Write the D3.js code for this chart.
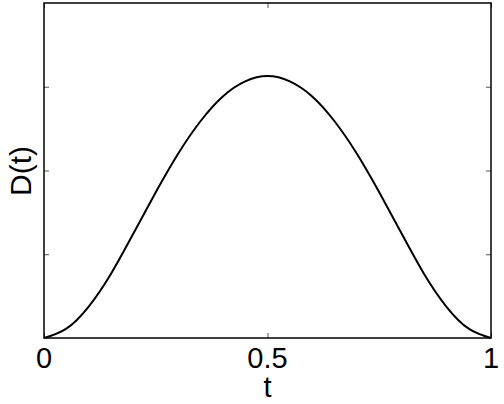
<!DOCTYPE html>
<html>
<head>
<meta charset="utf-8">
<script src="https://cdnjs.cloudflare.com/ajax/libs/d3/7.8.5/d3.min.js"></script>
<style>
  body { margin: 0; background: #fff; }
  text { font-family: "Liberation Sans", Arial, sans-serif; fill: #000; }
</style>
</head>
<body>
<div id="chart"></div>
<script>
// values
var tValues = [0, 0.05, 0.1, 0.15, 0.2, 0.25, 0.3, 0.35, 0.4, 0.45, 0.5,
               0.55, 0.6, 0.65, 0.7, 0.75, 0.8, 0.85, 0.9, 0.95, 1];
var dValues = [0, 0.028, 0.094, 0.192, 0.312, 0.435, 0.550, 0.647, 0.721, 0.766, 0.782,
               0.766, 0.721, 0.647, 0.550, 0.435, 0.312, 0.192, 0.094, 0.028, 0];
var xTicks = [0, 0.5, 1];
var xTickLabels = ["0", "0.5", "1"];
var yTicks = [0.25, 0.5, 0.75];

var width = 504, height = 404;
var margin = {top: 3, right: 13, bottom: 66, left: 44};

var svg = d3.select('#chart')
  .append('svg')
  .attr('width', width)
  .attr('height', height);

var x = d3.scaleLinear().domain([0, 1]).range([margin.left, width - margin.right]);
var y = d3.scaleLinear().domain([0, 1]).range([height - margin.bottom, margin.top]);

var data = tValues.map(function(t, i) { return {t: t, d: dValues[i]}; });

// curve
var line = d3.line()
  .x(function(d) { return x(d.t); })
  .y(function(d) { return y(d.d); })
  .curve(d3.curveNatural);

svg.append('path')
  .datum(data)
  .attr('d', line)
  .attr('fill', 'none')
  .attr('stroke', '#000')
  .attr('stroke-width', 2);

// axes, ticks pointing inward
var tickLen = 5;
svg.append('g')
  .attr('transform', 'translate(0,' + y(0) + ')')
  .call(d3.axisBottom(x).tickValues(xTicks).tickSize(-tickLen).tickFormat(''))
  .call(function(g) { g.select('.domain').remove(); });
svg.append('g')
  .attr('transform', 'translate(0,' + y(1) + ')')
  .call(d3.axisTop(x).tickValues(xTicks).tickSize(-tickLen).tickFormat(''))
  .call(function(g) { g.select('.domain').remove(); });
svg.append('g')
  .attr('transform', 'translate(' + x(0) + ',0)')
  .call(d3.axisLeft(y).tickValues(yTicks).tickSize(-tickLen).tickFormat(''))
  .call(function(g) { g.select('.domain').remove(); });
svg.append('g')
  .attr('transform', 'translate(' + x(1) + ',0)')
  .call(d3.axisRight(y).tickValues(yTicks).tickSize(-tickLen).tickFormat(''))
  .call(function(g) { g.select('.domain').remove(); });

svg.selectAll('.tick line').attr('stroke', '#555').attr('stroke-width', 1);

// frame
svg.append('rect')
  .attr('x', x(0))
  .attr('y', y(1))
  .attr('width', x(1) - x(0))
  .attr('height', y(0) - y(1))
  .attr('fill', 'none')
  .attr('stroke', '#000')
  .attr('stroke-width', 1.5);

// tick labels
svg.selectAll('.xlab')
  .data(xTicks)
  .enter()
  .append('text')
  .attr('class', 'xlab')
  .attr('x', function(d) { return x(d); })
  .attr('y', y(0) + 30)
  .attr('text-anchor', 'middle')
  .style('font-size', '29px')
  .text(function(d, i) { return xTickLabels[i]; });

// axis titles
svg.append('text')
  .attr('x', x(0.5))
  .attr('y', 397)
  .attr('text-anchor', 'middle')
  .style('font-size', '29px')
  .text('t');

svg.append('text')
  .attr('transform', 'translate(31,' + 171 + ') rotate(-90)')
  .attr('text-anchor', 'middle')
  .style('font-size', '30px')
  .text('D(t)');
</script>
</body>
</html>
